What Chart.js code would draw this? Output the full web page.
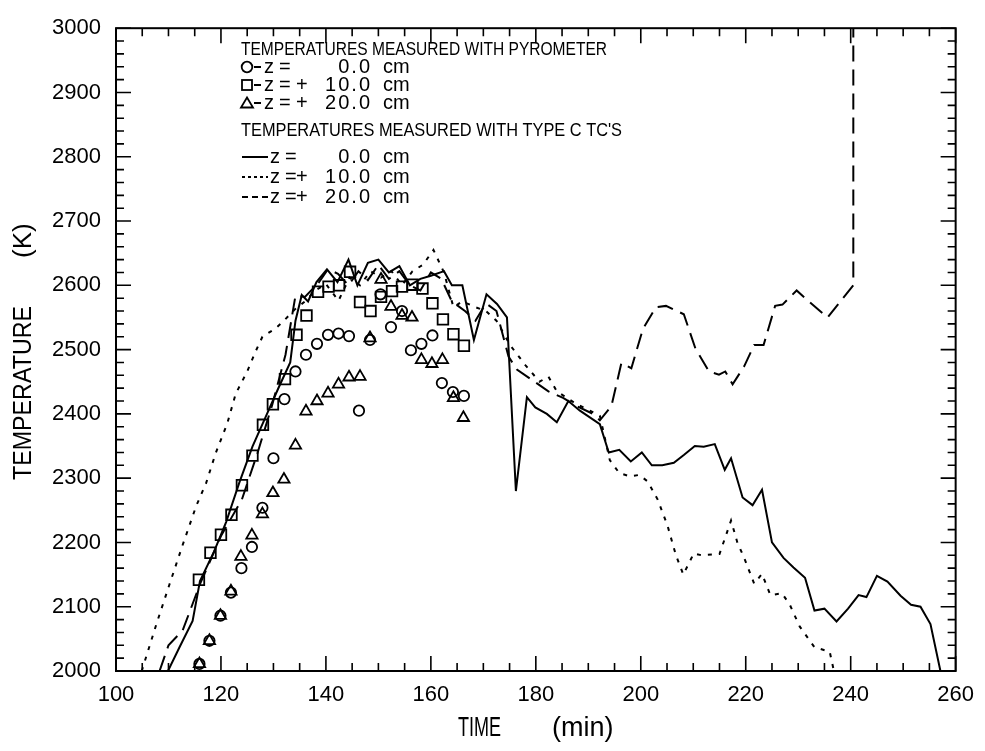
<!DOCTYPE html>
<html>
<head>
<meta charset="utf-8">
<script src="https://cdn.jsdelivr.net/npm/chart.js@4/dist/chart.umd.min.js"></script>
<style>
  body { margin: 0; background: #fff; }
</style>
</head>
<body>
<canvas id="tempChart" width="985" height="751"></canvas>
<script>
// pyrometer readings (symbols)
const pyroTime0 = [115.9, 117.8, 119.9, 121.9, 123.9, 125.9, 127.9, 130.0, 132.1, 134.2, 136.2, 138.3, 140.4, 142.4, 144.4, 146.3, 148.4, 150.4, 152.4, 154.5, 156.2, 158.2, 160.3, 162.1, 164.2, 166.3];
const pyroTemp0 = [2011, 2047, 2086, 2122, 2160, 2193, 2254, 2331, 2423, 2466, 2492, 2509, 2523, 2525, 2521, 2405, 2515, 2586, 2535, 2560, 2499, 2509, 2522, 2448, 2434, 2428];

const pyroTime10 = [115.8, 118.0, 120.0, 122.0, 124.0, 126.0, 128.0, 129.9, 132.2, 134.4, 136.3, 138.5, 140.5, 142.5, 144.6, 146.5, 148.5, 150.5, 152.6, 154.5, 156.5, 158.4, 160.3, 162.3, 164.3, 166.3];
const pyroTemp10 = [2142, 2184, 2212, 2243, 2289, 2335, 2383, 2415, 2454, 2523, 2553, 2590, 2598, 2600, 2621, 2574, 2560, 2582, 2591, 2598, 2601, 2595, 2572, 2547, 2524, 2506];

const pyroTime20 = [115.9, 117.8, 119.9, 121.9, 123.8, 125.9, 127.9, 129.9, 132.0, 134.2, 136.2, 138.3, 140.4, 142.4, 144.4, 146.5, 148.4, 150.5, 152.4, 154.5, 156.4, 158.2, 160.2, 162.2, 164.3, 166.2];
const pyroTemp20 = [2011, 2047, 2086, 2124, 2178, 2211, 2244, 2277, 2298, 2351, 2404, 2420, 2432, 2446, 2457, 2458, 2518, 2609, 2567, 2553, 2550, 2484, 2478, 2484, 2425, 2394];

// type C thermocouple traces
const tcTime0 = [109.9, 112.1, 114.6, 116.0, 118.7, 121.0, 123.5, 126.0, 128.5, 131.0, 133.2, 134.2, 135.4, 136.6, 138.2, 140.2, 142.2, 144.3, 146.0, 148.0, 150.0, 152.0, 154.0, 156.0, 158.0, 160.0, 162.5, 164.0, 166.0, 168.2, 170.6, 172.6, 174.5, 176.2, 178.3, 179.9, 182.1, 184.0, 186.2, 188.4, 192.2, 193.9, 195.9, 198.1, 200.2, 202.1, 204.1, 206.3, 208.2, 210.3, 212.0, 214.1, 216.0, 217.2, 219.4, 221.3, 223.1, 225.0, 227.2, 229.1, 231.3, 233.1, 235.0, 237.3, 239.5, 241.5, 243.0, 245.0, 247.0, 249.5, 251.5, 253.3, 255.2, 257.1];
const tcTemp0 = [2000, 2037, 2078, 2140, 2186, 2232, 2293, 2349, 2395, 2441, 2480, 2545, 2585, 2575, 2605, 2625, 2605, 2640, 2600, 2635, 2640, 2620, 2630, 2600, 2610, 2615, 2622, 2600, 2600, 2515, 2586, 2571, 2550, 2280, 2426, 2410, 2400, 2387, 2420, 2405, 2384, 2340, 2344, 2326, 2340, 2320, 2320, 2324, 2336, 2350, 2349, 2353, 2313, 2331, 2270, 2258, 2282, 2200, 2176, 2161, 2145, 2094, 2097, 2077, 2097, 2118, 2115, 2148, 2139, 2117, 2103, 2100, 2073, 2000];

const tcTime10 = [104.9, 107.7, 110.2, 112.7, 115.3, 117.2, 119.0, 121.2, 122.8, 125.0, 126.6, 127.9, 130.4, 132.0, 134.0, 136.0, 138.0, 140.0, 142.4, 144.5, 146.5, 148.5, 150.5, 152.5, 154.5, 156.5, 158.5, 160.5, 162.5, 164.3, 166.0, 168.5, 170.5, 172.5, 175.1, 178.0, 180.7, 182.4, 184.0, 185.9, 187.8, 190.3, 192.2, 194.1, 195.9, 197.9, 199.7, 201.3, 203.2, 205.1, 206.7, 208.1, 210.1, 211.6, 215.0, 217.2, 218.4, 219.7, 221.6, 223.1, 224.7, 226.9, 228.4, 230.3, 233.1, 236.0, 236.8];
const tcTemp10 = [2000, 2073, 2135, 2196, 2257, 2293, 2339, 2385, 2431, 2466, 2497, 2520, 2533, 2545, 2562, 2575, 2592, 2602, 2576, 2612, 2600, 2622, 2612, 2622, 2600, 2622, 2632, 2655, 2620, 2566, 2575, 2566, 2560, 2545, 2507, 2476, 2450, 2458, 2435, 2425, 2415, 2405, 2397, 2328, 2308, 2303, 2305, 2295, 2267, 2226, 2180, 2150, 2183, 2180, 2182, 2234, 2200, 2176, 2136, 2151, 2118, 2121, 2103, 2069, 2037, 2030, 2000];

const tcTime20 = [108.3, 110.0, 112.7, 116.0, 120.0, 124.0, 127.0, 129.8, 132.3, 134.2, 136.0, 138.6, 140.4, 142.3, 144.3, 146.2, 148.0, 150.0, 152.0, 154.0, 156.0, 158.0, 160.0, 162.0, 164.0, 166.5, 168.5, 170.5, 172.5, 174.8, 176.4, 179.6, 182.4, 185.2, 187.8, 190.9, 192.2, 194.4, 196.3, 198.2, 200.4, 202.9, 204.8, 208.2, 210.4, 213.0, 214.9, 216.1, 217.5, 219.7, 221.6, 223.4, 225.6, 227.0, 229.7, 232.0, 235.6, 240.5, 240.5];
const tcTemp20 = [2000, 2040, 2063, 2135, 2210, 2267, 2340, 2415, 2492, 2584, 2582, 2604, 2625, 2618, 2600, 2622, 2608, 2632, 2610, 2622, 2600, 2592, 2620, 2610, 2575, 2560, 2545, 2572, 2560, 2489, 2469, 2451, 2435, 2425, 2412, 2400, 2390, 2412, 2479, 2471, 2532, 2566, 2568, 2555, 2502, 2466, 2461, 2466, 2446, 2474, 2507, 2507, 2568, 2570, 2592, 2575, 2550, 2600, 3000];

const xTicks = [100, 120, 140, 160, 180, 200, 220, 240, 260];
const yTicks = [2000, 2100, 2200, 2300, 2400, 2500, 2600, 2700, 2800, 2900, 3000];

function pts(xs, ys) {
  return xs.map((x, i) => ({ x: x, y: ys[i] }));
}

function symbolSet(xs, ys, style, r) {
  return {
    data: pts(xs, ys),
    showLine: false,
    pointStyle: style,
    pointRadius: r,
    pointBorderWidth: 1.8,
    pointBorderColor: '#000',
    pointBackgroundColor: 'rgba(0,0,0,0)'
  };
}

function traceSet(xs, ys, dash) {
  return {
    data: pts(xs, ys),
    showLine: true,
    tension: 0,
    borderColor: '#000',
    borderWidth: 2,
    borderDash: dash,
    pointRadius: 0
  };
}

// draw text squeezed into a given width
function squeeze(ctx, text, x, y, w) {
  const nat = ctx.measureText(text).width;
  ctx.save();
  ctx.translate(x, y);
  ctx.scale(w / nat, 1);
  ctx.fillText(text, 0, 0);
  ctx.restore();
}

// inward ticks on all four sides plus the frame and axis titles
const frameTicks = {
  id: 'frameTicks',
  afterDraw(chart) {
    const ctx = chart.ctx;
    const a = chart.chartArea;
    const xs = chart.scales.x, ys = chart.scales.y;
    ctx.save();
    ctx.strokeStyle = '#000';
    ctx.lineWidth = 2;
    ctx.strokeRect(a.left, a.top, a.right - a.left, a.bottom - a.top);
    ctx.lineWidth = 1.6;
    ctx.beginPath();
    for (let v = 100; v <= 260; v += 5) {
      const px = xs.getPixelForValue(v);
      const len = v % 20 === 0 ? 15 : 8;
      ctx.moveTo(px, a.bottom); ctx.lineTo(px, a.bottom - len);
      ctx.moveTo(px, a.top); ctx.lineTo(px, a.top + len);
    }
    for (let v = 2000; v <= 3000; v += 20) {
      const py = ys.getPixelForValue(v);
      const len = v % 100 === 0 ? 15 : 8;
      ctx.moveTo(a.left, py); ctx.lineTo(a.left + len, py);
      ctx.moveTo(a.right, py); ctx.lineTo(a.right - len, py);
    }
    ctx.stroke();

    ctx.fillStyle = '#000';
    ctx.textBaseline = 'middle';
    ctx.font = '27px "Liberation Sans", Arial, sans-serif';
    squeeze(ctx, 'TIME', 458, 729, 43);
    ctx.fillText('(min)', 552, 729);

    ctx.save();
    ctx.translate(24, 0);
    ctx.rotate(-Math.PI / 2);
    ctx.font = '26px "Liberation Sans", Arial, sans-serif';
    squeeze(ctx, 'TEMPERATURE', -480, 0, 174);
    ctx.fillText('(K)', -258, 0);
    ctx.restore();
    ctx.restore();
  }
};

// key block in the upper left of the plot
const keyBlock = {
  id: 'keyBlock',
  afterDraw(chart) {
    const ctx = chart.ctx;
    ctx.save();
    ctx.fillStyle = '#000';
    ctx.strokeStyle = '#000';
    ctx.textBaseline = 'middle';

    ctx.font = '18px "Liberation Sans", Arial, sans-serif';
    squeeze(ctx, 'TEMPERATURES MEASURED WITH PYROMETER', 241, 50, 366);
    squeeze(ctx, "TEMPERATURES MEASURED WITH TYPE C TC'S", 241, 131, 381);

    const rows = [
      { y: 67, sign: '', num: '0.0' },
      { y: 85, sign: '+', num: '10.0' },
      { y: 103, sign: '+', num: '20.0' },
      { y: 157, sign: '', num: '0.0' },
      { y: 177, sign: '+', num: '10.0' },
      { y: 197, sign: '+', num: '20.0' }
    ];
    ctx.font = '20px "Liberation Sans", Arial, sans-serif';
    rows.forEach((r, i) => {
      const zx = i < 3 ? 264 : 270;
      ctx.textAlign = 'left';
      ctx.fillText('z', zx, r.y);
      ctx.fillText('=', zx + 15, r.y);
      if (r.sign) ctx.fillText('+', 296, r.y);
      ctx.letterSpacing = '2px';
      ctx.textAlign = 'right';
      ctx.fillText(r.num, 372, r.y);
      ctx.letterSpacing = '0px';
      ctx.textAlign = 'left';
      ctx.fillText('cm', 383, r.y);
    });

    // symbol samples with their dashes
    ctx.lineWidth = 1.8;
    ctx.beginPath();
    ctx.arc(247, 67, 5.3, 0, Math.PI * 2);
    ctx.stroke();
    ctx.strokeRect(242, 80, 10, 10);
    ctx.beginPath();
    ctx.moveTo(247, 97.5); ctx.lineTo(253, 107.5); ctx.lineTo(241, 107.5); ctx.closePath();
    ctx.stroke();
    ctx.beginPath();
    [67, 85, 103].forEach(y => { ctx.moveTo(254, y); ctx.lineTo(261, y); });
    ctx.stroke();

    // line samples
    ctx.lineWidth = 2;
    ctx.beginPath();
    ctx.moveTo(242, 157); ctx.lineTo(268, 157);
    ctx.stroke();
    ctx.setLineDash([3, 3]);
    ctx.beginPath();
    ctx.moveTo(242, 177); ctx.lineTo(268, 177);
    ctx.stroke();
    ctx.setLineDash([6, 4]);
    ctx.beginPath();
    ctx.moveTo(242, 197); ctx.lineTo(268, 197);
    ctx.stroke();
    ctx.restore();
  }
};

const tickFont = { family: '"Liberation Sans", Arial, sans-serif', size: 22 };

new Chart(document.getElementById('tempChart'), {
  type: 'scatter',
  data: {
    datasets: [
      traceSet(tcTime0, tcTemp0, []),
      traceSet(tcTime10, tcTemp10, [4, 7]),
      traceSet(tcTime20, tcTemp20, [16, 8]),
      symbolSet(pyroTime0, pyroTemp0, 'circle', 5.2),
      symbolSet(pyroTime10, pyroTemp10, 'rect', 7.5),
      symbolSet(pyroTime20, pyroTemp20, 'triangle', 6.5)
    ]
  },
  options: {
    responsive: false,
    animation: false,
    layout: { padding: { left: 0, right: 23, top: 18, bottom: 0 } },
    plugins: { legend: { display: false }, tooltip: { enabled: false } },
    scales: {
      x: {
        type: 'linear',
        min: 100,
        max: 260,
        afterBuildTicks: s => { s.ticks = xTicks.map(v => ({ value: v })); },
        afterFit: s => { s.height = 80; },
        ticks: { color: '#000', font: tickFont, padding: 11, maxRotation: 0, callback: v => String(v) },
        grid: { display: false, drawTicks: false },
        border: { display: false }
      },
      y: {
        type: 'linear',
        min: 2000,
        max: 3000,
        afterBuildTicks: s => { s.ticks = yTicks.map(v => ({ value: v })); },
        afterFit: s => { s.width = 116; },
        ticks: { color: '#000', font: tickFont, padding: 15, callback: v => String(v) },
        grid: { display: false, drawTicks: false },
        border: { display: false }
      }
    }
  },
  plugins: [frameTicks, keyBlock]
});
</script>
</body>
</html>
